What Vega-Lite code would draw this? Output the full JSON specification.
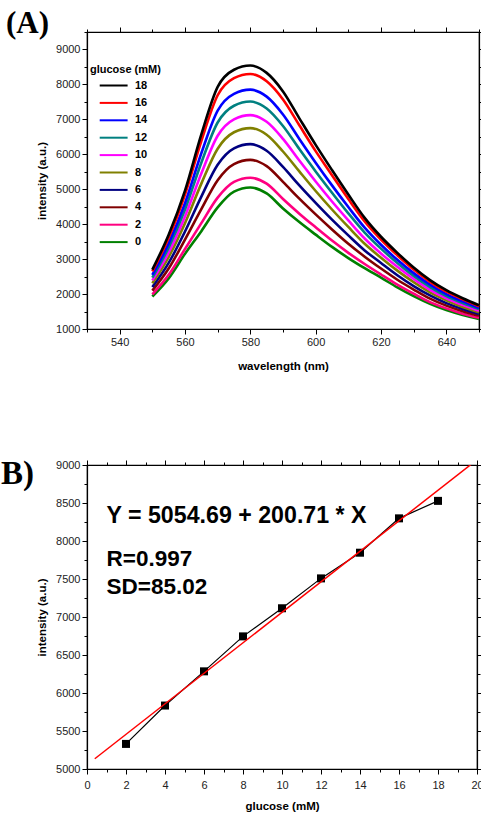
{
"$schema": "https://vega.github.io/schema/vega-lite/v6.json",
"padding": {"left": 0, "top": 7, "right": 0, "bottom": 0},
"spacing": 84,
"config": {
  "font": "Liberation Sans",
  "view": {"stroke": "#000", "strokeWidth": 1.2},
  "axis": {"domainColor": "#000", "domainWidth": 1.2, "tickColor": "#000", "tickWidth": 1, "labelFont": "Liberation Sans", "labelFontSize": 11, "labelColor": "#222", "titleFont": "Liberation Sans", "titleFontSize": 11.5, "titleFontWeight": "bold", "titleColor": "#000", "grid": false, "labelOverlap": false, "labelFlush": false, "labelBound": false}
},
"datasets": {
  "spectra": [
{"w":550,"g":0,"i":1930},{"w":550,"g":2,"i":1990},{"w":550,"g":4,"i":2100},{"w":550,"g":6,"i":2200},{"w":550,"g":8,"i":2310},{"w":550,"g":10,"i":2390},{"w":550,"g":12,"i":2470},{"w":550,"g":14,"i":2550},{"w":550,"g":16,"i":2650},{"w":550,"g":18,"i":2700},
{"w":555,"g":0,"i":2450},{"w":555,"g":2,"i":2550},{"w":555,"g":4,"i":2730},{"w":555,"g":6,"i":2890},{"w":555,"g":8,"i":3060},{"w":555,"g":10,"i":3190},{"w":555,"g":12,"i":3330},{"w":555,"g":14,"i":3450},{"w":555,"g":16,"i":3610},{"w":555,"g":18,"i":3700},
{"w":560,"g":0,"i":3150},{"w":560,"g":2,"i":3290},{"w":560,"g":4,"i":3560},{"w":560,"g":6,"i":3790},{"w":560,"g":8,"i":4030},{"w":560,"g":10,"i":4220},{"w":560,"g":12,"i":4420},{"w":560,"g":14,"i":4600},{"w":560,"g":16,"i":4850},{"w":560,"g":18,"i":4960},
{"w":565,"g":0,"i":3800},{"w":565,"g":2,"i":4030},{"w":565,"g":4,"i":4430},{"w":565,"g":6,"i":4790},{"w":565,"g":8,"i":5160},{"w":565,"g":10,"i":5450},{"w":565,"g":12,"i":5760},{"w":565,"g":14,"i":6030},{"w":565,"g":16,"i":6380},{"w":565,"g":18,"i":6570},
{"w":570,"g":0,"i":4480},{"w":570,"g":2,"i":4760},{"w":570,"g":4,"i":5260},{"w":570,"g":6,"i":5700},{"w":570,"g":8,"i":6160},{"w":570,"g":10,"i":6530},{"w":570,"g":12,"i":6910},{"w":570,"g":14,"i":7250},{"w":570,"g":16,"i":7690},{"w":570,"g":18,"i":7930},
{"w":575,"g":0,"i":4930},{"w":575,"g":2,"i":5210},{"w":575,"g":4,"i":5720},{"w":575,"g":6,"i":6170},{"w":575,"g":8,"i":6630},{"w":575,"g":10,"i":7000},{"w":575,"g":12,"i":7390},{"w":575,"g":14,"i":7730},{"w":575,"g":16,"i":8180},{"w":575,"g":18,"i":8420},
{"w":580,"g":0,"i":5050},{"w":580,"g":2,"i":5330},{"w":580,"g":4,"i":5840},{"w":580,"g":6,"i":6290},{"w":580,"g":8,"i":6750},{"w":580,"g":10,"i":7120},{"w":580,"g":12,"i":7510},{"w":580,"g":14,"i":7850},{"w":580,"g":16,"i":8300},{"w":580,"g":18,"i":8540},
{"w":585,"g":0,"i":4880},{"w":585,"g":2,"i":5160},{"w":585,"g":4,"i":5660},{"w":585,"g":6,"i":6100},{"w":585,"g":8,"i":6560},{"w":585,"g":10,"i":6930},{"w":585,"g":12,"i":7310},{"w":585,"g":14,"i":7650},{"w":585,"g":16,"i":8090},{"w":585,"g":18,"i":8330},
{"w":590,"g":0,"i":4450},{"w":590,"g":2,"i":4720},{"w":590,"g":4,"i":5210},{"w":590,"g":6,"i":5640},{"w":590,"g":8,"i":6080},{"w":590,"g":10,"i":6440},{"w":590,"g":12,"i":6810},{"w":590,"g":14,"i":7140},{"w":590,"g":16,"i":7570},{"w":590,"g":18,"i":7800},
{"w":595,"g":0,"i":4060},{"w":595,"g":2,"i":4300},{"w":595,"g":4,"i":4730},{"w":595,"g":6,"i":5110},{"w":595,"g":8,"i":5510},{"w":595,"g":10,"i":5820},{"w":595,"g":12,"i":6150},{"w":595,"g":14,"i":6440},{"w":595,"g":16,"i":6830},{"w":595,"g":18,"i":7030},
{"w":600,"g":0,"i":3700},{"w":600,"g":2,"i":3910},{"w":600,"g":4,"i":4280},{"w":600,"g":6,"i":4610},{"w":600,"g":8,"i":4950},{"w":600,"g":10,"i":5220},{"w":600,"g":12,"i":5510},{"w":600,"g":14,"i":5760},{"w":600,"g":16,"i":6090},{"w":600,"g":18,"i":6270},
{"w":605,"g":0,"i":3350},{"w":605,"g":2,"i":3530},{"w":605,"g":4,"i":3850},{"w":605,"g":6,"i":4130},{"w":605,"g":8,"i":4420},{"w":605,"g":10,"i":4650},{"w":605,"g":12,"i":4900},{"w":605,"g":14,"i":5110},{"w":605,"g":16,"i":5400},{"w":605,"g":18,"i":5550},
{"w":610,"g":0,"i":3030},{"w":610,"g":2,"i":3180},{"w":610,"g":4,"i":3440},{"w":610,"g":6,"i":3680},{"w":610,"g":8,"i":3920},{"w":610,"g":10,"i":4110},{"w":610,"g":12,"i":4310},{"w":610,"g":14,"i":4490},{"w":610,"g":16,"i":4720},{"w":610,"g":18,"i":4850},
{"w":615,"g":0,"i":2740},{"w":615,"g":2,"i":2860},{"w":615,"g":4,"i":3070},{"w":615,"g":6,"i":3250},{"w":615,"g":8,"i":3440},{"w":615,"g":10,"i":3590},{"w":615,"g":12,"i":3760},{"w":615,"g":14,"i":3900},{"w":615,"g":16,"i":4080},{"w":615,"g":18,"i":4180},
{"w":620,"g":0,"i":2470},{"w":620,"g":2,"i":2560},{"w":620,"g":4,"i":2730},{"w":620,"g":6,"i":2890},{"w":620,"g":8,"i":3040},{"w":620,"g":10,"i":3160},{"w":620,"g":12,"i":3300},{"w":620,"g":14,"i":3410},{"w":620,"g":16,"i":3560},{"w":620,"g":18,"i":3640},
{"w":625,"g":0,"i":2190},{"w":625,"g":2,"i":2270},{"w":625,"g":4,"i":2410},{"w":625,"g":6,"i":2540},{"w":625,"g":8,"i":2670},{"w":625,"g":10,"i":2780},{"w":625,"g":12,"i":2890},{"w":625,"g":14,"i":2980},{"w":625,"g":16,"i":3110},{"w":625,"g":18,"i":3180},
{"w":630,"g":0,"i":1940},{"w":630,"g":2,"i":2010},{"w":630,"g":4,"i":2130},{"w":630,"g":6,"i":2230},{"w":630,"g":8,"i":2340},{"w":630,"g":10,"i":2430},{"w":630,"g":12,"i":2520},{"w":630,"g":14,"i":2600},{"w":630,"g":16,"i":2700},{"w":630,"g":18,"i":2760},
{"w":635,"g":0,"i":1720},{"w":635,"g":2,"i":1770},{"w":635,"g":4,"i":1870},{"w":635,"g":6,"i":1960},{"w":635,"g":8,"i":2050},{"w":635,"g":10,"i":2120},{"w":635,"g":12,"i":2200},{"w":635,"g":14,"i":2270},{"w":635,"g":16,"i":2350},{"w":635,"g":18,"i":2400},
{"w":640,"g":0,"i":1540},{"w":640,"g":2,"i":1590},{"w":640,"g":4,"i":1670},{"w":640,"g":6,"i":1740},{"w":640,"g":8,"i":1820},{"w":640,"g":10,"i":1880},{"w":640,"g":12,"i":1940},{"w":640,"g":14,"i":2000},{"w":640,"g":16,"i":2070},{"w":640,"g":18,"i":2110},
{"w":645,"g":0,"i":1400},{"w":645,"g":2,"i":1440},{"w":645,"g":4,"i":1510},{"w":645,"g":6,"i":1570},{"w":645,"g":8,"i":1630},{"w":645,"g":10,"i":1690},{"w":645,"g":12,"i":1740},{"w":645,"g":14,"i":1790},{"w":645,"g":16,"i":1850},{"w":645,"g":18,"i":1880},
{"w":650,"g":0,"i":1290},{"w":650,"g":2,"i":1320},{"w":650,"g":4,"i":1380},{"w":650,"g":6,"i":1430},{"w":650,"g":8,"i":1480},{"w":650,"g":10,"i":1520},{"w":650,"g":12,"i":1570},{"w":650,"g":14,"i":1600},{"w":650,"g":16,"i":1650},{"w":650,"g":18,"i":1680}
  ],
  "cal": [
{"c":2,"i":5330},{"c":4,"i":5835},{"c":6,"i":6285},{"c":8,"i":6745},{"c":10,"i":7115},{"c":12,"i":7508},{"c":14,"i":7846},{"c":16,"i":8298},{"c":18,"i":8528}
  ],
  "fit": [
{"c":0.4,"i":5135},{"c":20,"i":9069}
  ]
},
"vconcat": [
{
  "width": 392, "height": 297,
  "layer": [
    {
      "data": {"name": "spectra"},
      "mark": {"type": "line", "strokeWidth": 2.6, "interpolate": "monotone"},
      "encoding": {
        "x": {"field": "w", "type": "quantitative", "scale": {"domain": [530, 650], "nice": false, "zero": false},
              "axis": {"title": "wavelength (nm)", "values": [530,540,550,560,570,580,590,600,610,620,630,640,650],
                       "labelExpr": "(datum.value-540)%20===0 ? datum.label : ''",
                       "tickSize": {"condition": {"test": "(datum.value-540)%20===0", "value": 5}, "value": 3},
                       "titlePadding": 13}},
        "y": {"field": "i", "type": "quantitative", "scale": {"domain": [1000, 9500], "nice": false, "zero": false},
              "axis": {"title": "intensity (a.u.)", "values": [1000,1500,2000,2500,3000,3500,4000,4500,5000,5500,6000,6500,7000,7500,8000,8500,9000,9500],
                       "labelExpr": "datum.value%1000===0 ? datum.value : ''",
                       "tickSize": {"condition": {"test": "datum.value%1000===0", "value": 5}, "value": 3},
                       "titlePadding": 8}},
        "color": {"field": "g", "type": "nominal",
                  "scale": {"domain": [18,16,14,12,10,8,6,4,2,0], "range": ["#000000","#ff0000","#0000ff","#008080","#ff00ff","#808000","#000080","#800000","#ff0080","#008000"]},
                  "legend": {"title": "glucose (mM)", "orient": "none", "legendX": 3, "legendY": 32, "padding": 0,
                             "titleFont": "Liberation Sans", "titleFontSize": 11, "titleFontWeight": "bold", "titleColor": "#000", "titlePadding": 5,
                             "labelFont": "Liberation Sans", "labelFontSize": 11, "labelFontWeight": "bold", "labelColor": "#000",
                             "symbolType": "M1.4,0H10.7", "symbolSize": 36, "symbolStrokeWidth": 2, "labelOffset": 34, "rowPadding": 5.4}}
      }
    },
    {
      "data": {"name": "spectra"},
      "mark": {"type": "line", "opacity": 0},
      "encoding": {
        "x": {"field": "w", "type": "quantitative",
              "axis": {"orient": "top", "title": null, "labels": false, "values": [530,540,550,560,570,580,590,600,610,620,630,640,650],
                       "tickSize": {"condition": {"test": "(datum.value-540)%20===0", "value": 5}, "value": 3}}},
        "y": {"field": "i", "type": "quantitative",
              "axis": {"orient": "right", "title": null, "labels": false, "values": [1000,1500,2000,2500,3000,3500,4000,4500,5000,5500,6000,6500,7000,7500,8000,8500,9000,9500],
                       "tickSize": {"condition": {"test": "datum.value%1000===0", "value": 5}, "value": 3}}},
        "detail": {"field": "g", "type": "nominal"}
      }
    },
    {
      "data": {"values": [{"label": "(A)"}]},
      "mark": {"type": "text", "font": "Liberation Serif", "fontSize": 31, "fontWeight": "bold", "align": "left", "baseline": "alphabetic", "color": "#000"},
      "encoding": {
        "x": {"datum": 505.2, "type": "quantitative", "axis": null},
        "y": {"datum": 9470, "type": "quantitative", "axis": null},
        "text": {"field": "label"}
      }
    }
  ],
  "resolve": {"axis": {"x": "independent", "y": "independent"}}
},
{
  "width": 390, "height": 304,
  "layer": [
    {
      "data": {"name": "cal"},
      "mark": {"type": "line", "color": "#000", "strokeWidth": 1.2},
      "encoding": {
        "x": {"field": "c", "type": "quantitative", "scale": {"domain": [0, 20], "nice": false},
              "axis": {"title": "glucose (mM)", "values": [0,1,2,3,4,5,6,7,8,9,10,11,12,13,14,15,16,17,18,19,20],
                       "labelExpr": "datum.value%2===0 ? datum.label : ''",
                       "tickSize": {"condition": {"test": "datum.value%2===0", "value": 5}, "value": 3},
                       "labelPadding": 5, "titlePadding": 10}},
        "y": {"field": "i", "type": "quantitative", "scale": {"domain": [5000, 9000], "nice": false, "zero": false},
              "axis": {"title": "intensity (a.u.)", "values": [5000,5250,5500,5750,6000,6250,6500,6750,7000,7250,7500,7750,8000,8250,8500,8750,9000],
                       "labelExpr": "datum.value%500===0 ? datum.value : ''",
                       "tickSize": {"condition": {"test": "datum.value%500===0", "value": 5}, "value": 3},
                       "titlePadding": 8}}
      }
    },
    {
      "data": {"name": "cal"},
      "mark": {"type": "square", "color": "#000", "size": 64, "opacity": 1, "filled": true},
      "encoding": {
        "x": {"field": "c", "type": "quantitative", "axis": null},
        "y": {"field": "i", "type": "quantitative", "axis": null}
      }
    },
    {
      "data": {"name": "fit"},
      "mark": {"type": "line", "color": "#ff0000", "strokeWidth": 1.5, "clip": true},
      "encoding": {
        "x": {"field": "c", "type": "quantitative",
              "axis": {"orient": "top", "title": null, "labels": false, "values": [0,1,2,3,4,5,6,7,8,9,10,11,12,13,14,15,16,17,18,19,20],
                       "tickSize": {"condition": {"test": "datum.value%2===0", "value": 5}, "value": 3}}},
        "y": {"field": "i", "type": "quantitative",
              "axis": {"orient": "right", "title": null, "labels": false, "values": [5000,5250,5500,5750,6000,6250,6500,6750,7000,7250,7500,7750,8000,8250,8500,8750,9000],
                       "tickSize": {"condition": {"test": "datum.value%500===0", "value": 5}, "value": 3}}}
      }
    },
    {
      "data": {"values": [{"label": "Y = 5054.69 + 200.71 * X"}]},
      "mark": {"type": "text", "fontSize": 23.2, "fontWeight": "bold", "align": "left", "baseline": "alphabetic", "color": "#000"},
      "encoding": {"x": {"datum": 1.0, "type": "quantitative", "axis": null}, "y": {"datum": 8241, "type": "quantitative", "axis": null}, "text": {"field": "label"}}
    },
    {
      "data": {"values": [{"label": "R=0.997"}]},
      "mark": {"type": "text", "fontSize": 22.5, "fontWeight": "bold", "align": "left", "baseline": "alphabetic", "color": "#000"},
      "encoding": {"x": {"datum": 1.0, "type": "quantitative", "axis": null}, "y": {"datum": 7675, "type": "quantitative", "axis": null}, "text": {"field": "label"}}
    },
    {
      "data": {"values": [{"label": "SD=85.02"}]},
      "mark": {"type": "text", "fontSize": 22.5, "fontWeight": "bold", "align": "left", "baseline": "alphabetic", "color": "#000"},
      "encoding": {"x": {"datum": 1.0, "type": "quantitative", "axis": null}, "y": {"datum": 7303, "type": "quantitative", "axis": null}, "text": {"field": "label"}}
    },
    {
      "data": {"values": [{"label": "B)"}]},
      "mark": {"type": "text", "font": "Liberation Serif", "fontSize": 33, "fontWeight": "bold", "align": "left", "baseline": "alphabetic", "color": "#000"},
      "encoding": {"x": {"datum": -4.41, "type": "quantitative", "axis": null}, "y": {"datum": 8750, "type": "quantitative", "axis": null}, "text": {"field": "label"}}
    }
  ],
  "resolve": {"axis": {"x": "independent", "y": "independent"}}
}
]
}
